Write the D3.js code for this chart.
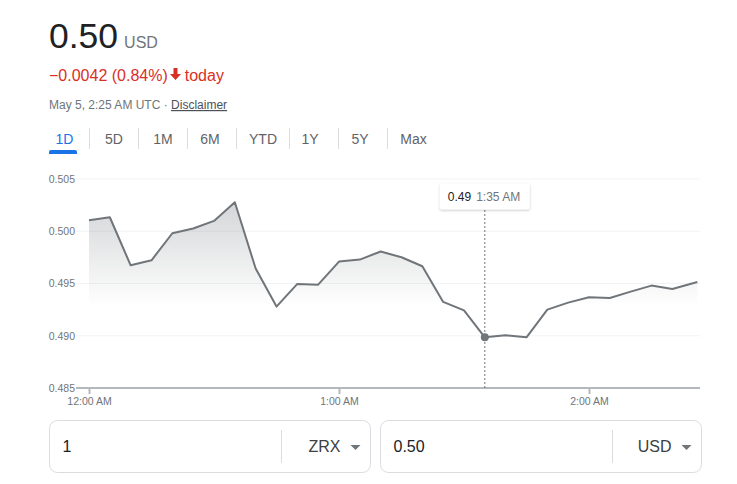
<!DOCTYPE html>
<html>
<head>
<meta charset="utf-8">
<script src="https://cdn.jsdelivr.net/npm/d3@7"></script>
<style>
  body { margin: 0; background: #fff; }
  svg text { font-family: Arial, "Liberation Sans", sans-serif; }
</style>
</head>
<body>
<div id="chart"></div>
<script>
// minutes after 12:00 AM, one point every 5 minutes
var minutes = [0, 5, 10, 15, 20, 25, 30, 35, 40, 45, 50, 55,
  60, 65, 70, 75, 80, 85, 90, 95, 100, 105, 110, 115,
  120, 125, 130, 135, 140, 146];
var prices = [0.50105, 0.50134, 0.49674, 0.49722, 0.49981, 0.50026, 0.50099, 0.50278,
  0.49643, 0.49279, 0.49496, 0.49489, 0.49710, 0.49729, 0.49806, 0.49751,
  0.49665, 0.49324, 0.49243, 0.48985, 0.49004, 0.48985, 0.49250, 0.49317,
  0.49368, 0.49362, 0.49422, 0.49480, 0.49448, 0.49515];
var yTicks = [0.485, 0.490, 0.495, 0.500, 0.505];
var xTicks = [0, 60, 120];
var xTickLabels = ["12:00 AM", "1:00 AM", "2:00 AM"];
var tabs = ["1D", "5D", "1M", "6M", "YTD", "1Y", "5Y", "Max"];
var hoverIndex = 19; // 1:35 AM

var W = 737, H = 484;
var svg = d3.select("#chart").append("svg")
  .attr("width", W).attr("height", H);

// ---- header ----
var head = svg.append("text").attr("x", 49).attr("y", 48);
head.append("tspan").attr("font-size", 35.5).attr("fill", "#202124").text("0.50");
head.append("tspan").attr("dx", 6).attr("font-size", 16).attr("fill", "#70757a").text("USD");

var chg = svg.append("text").attr("x", 49).attr("y", 81)
  .attr("font-size", 16).attr("fill", "#d93025");
chg.append("tspan").text("\u22120.0042 (0.84%)");
chg.append("tspan").attr("dx", 17).text("today");
// down arrow
svg.append("path")
  .attr("d", "M173.5,68 h4 v6 h3.5 l-5.5,6 l-5.5,-6 h3.5 z")
  .attr("fill", "#d93025");

var dt = svg.append("text").attr("x", 49).attr("y", 109)
  .attr("font-size", 12).attr("fill", "#70757a");
dt.append("tspan").text("May 5, 2:25 AM UTC \u00b7 ");
dt.append("tspan").attr("fill", "#4d5156").attr("text-decoration", "underline").text("Disclaimer");

// ---- tabs ----
var tabCenters = [64.5, 114, 163, 210, 263, 310, 360, 413.5];
var seps = [89.5, 138.5, 187.5, 236.5, 289.5, 338.5, 387.5];
svg.selectAll(".tab").data(tabs).enter().append("text")
  .attr("class", "tab")
  .attr("x", function(d, i) { return tabCenters[i]; })
  .attr("y", 144)
  .attr("text-anchor", "middle")
  .attr("font-size", 14)
  .attr("fill", function(d, i) { return i === 0 ? "#1a73e8" : "#5f6368"; })
  .text(function(d) { return d; });
svg.selectAll(".sep").data(seps).enter().append("line")
  .attr("x1", function(d) { return d; }).attr("x2", function(d) { return d; })
  .attr("y1", 128).attr("y2", 149)
  .attr("stroke", "#dadce0").attr("stroke-width", 1);
svg.append("path")
  .attr("d", "M49,154 v-2 a2,2 0 0 1 2,-2 h24 a2,2 0 0 1 2,2 v2 z")
  .attr("fill", "#1a73e8");

// ---- chart ----
var x = d3.scaleLinear().domain([0, 120]).range([89, 589]);
var y = d3.scaleLinear().domain([0.485, 0.505]).range([388, 179]);
var data = minutes.map(function(m, i) { return {m: m, v: prices[i]}; });

// grid
svg.selectAll(".grid").data(yTicks.slice(1)).enter().append("line")
  .attr("x1", 76).attr("x2", 700)
  .attr("y1", function(d) { return y(d); }).attr("y2", function(d) { return y(d); })
  .attr("stroke", "#f1f3f4").attr("stroke-width", 1);

// y labels
var yAxis = svg.append("g").attr("transform", "translate(75,0)")
  .call(d3.axisLeft(y).tickValues(yTicks).tickSize(0).tickPadding(0)
    .tickFormat(d3.format(".3f")));
yAxis.select(".domain").remove();
yAxis.selectAll("text").attr("font-size", 10.5).attr("fill", "#70757a")
  .attr("font-family", "Arial, 'Liberation Sans', sans-serif");

// gradient area
var bottomY = y(0.4928);
var defs = svg.append("defs");
var grad = defs.append("linearGradient").attr("id", "fillGrad")
  .attr("gradientUnits", "userSpaceOnUse")
  .attr("x1", 0).attr("x2", 0)
  .attr("y1", y(d3.max(prices))).attr("y2", bottomY);
grad.append("stop").attr("offset", 0).attr("stop-color", "#70757a").attr("stop-opacity", 0.3);
grad.append("stop").attr("offset", 1).attr("stop-color", "#70757a").attr("stop-opacity", 0);

var area = d3.area()
  .x(function(d) { return x(d.m); })
  .y0(bottomY)
  .y1(function(d) { return Math.min(y(d.v), bottomY); });
svg.append("path").datum(data)
  .attr("d", area).attr("fill", "url(#fillGrad)");

// x axis
var xAxis = svg.append("g").attr("transform", "translate(0,388)")
  .call(d3.axisBottom(x).tickValues(xTicks).tickSize(6).tickPadding(4)
    .tickFormat(function(d, i) { return xTickLabels[i]; }));
xAxis.select(".domain").remove();
xAxis.selectAll("line").attr("stroke", "#b4b8bc").attr("stroke-width", 2);
xAxis.selectAll("text").attr("font-size", 10.5).attr("fill", "#70757a")
  .attr("font-family", "Arial, 'Liberation Sans', sans-serif");
svg.append("line")
  .attr("x1", 76).attr("x2", 700).attr("y1", 388).attr("y2", 388)
  .attr("stroke", "#b4b8bc").attr("stroke-width", 2);

// line
var line = d3.line()
  .x(function(d) { return x(d.m); })
  .y(function(d) { return y(d.v); });
svg.append("path").datum(data)
  .attr("d", line).attr("fill", "none")
  .attr("stroke", "#70757a").attr("stroke-width", 2)
  .attr("stroke-linejoin", "round");

// hover marker
var hp = data[hoverIndex];
svg.append("line")
  .attr("x1", x(hp.m)).attr("x2", x(hp.m))
  .attr("y1", 210).attr("y2", 388)
  .attr("stroke", "#70757a").attr("stroke-width", 1)
  .attr("stroke-dasharray", "2,2");
svg.append("circle")
  .attr("cx", x(hp.m)).attr("cy", y(hp.v)).attr("r", 4)
  .attr("fill", "#70757a");

// tooltip
var filt = defs.append("filter").attr("id", "shadow")
  .attr("x", "-20%").attr("y", "-30%").attr("width", "140%").attr("height", "170%");
filt.append("feDropShadow").attr("dx", 0).attr("dy", 1).attr("stdDeviation", 1.2)
  .attr("flood-color", "#3c4043").attr("flood-opacity", 0.3);
svg.append("rect")
  .attr("x", x(hp.m) - 45).attr("y", 183.5).attr("width", 90).attr("height", 26)
  .attr("rx", 2).attr("fill", "#fff").attr("filter", "url(#shadow)");
var tt = svg.append("text").attr("x", x(hp.m) - 37).attr("y", 200.5).attr("font-size", 12);
tt.append("tspan").attr("fill", "#202124").text("0.49");
tt.append("tspan").attr("dx", 5).attr("fill", "#70757a").text("1:35 AM");

// ---- converter boxes ----
var boxes = [
  {x: 49.5, w: 321, val: "1", cur: "ZRX"},
  {x: 380.5, w: 321, val: "0.50", cur: "USD"}
];
var bx = svg.selectAll(".box").data(boxes).enter().append("g").attr("class", "box");
bx.append("rect")
  .attr("x", function(d) { return d.x; }).attr("y", 420.5)
  .attr("width", function(d) { return d.w; }).attr("height", 52)
  .attr("rx", 8).attr("fill", "#fff").attr("stroke", "#dadce0");
bx.append("line")
  .attr("x1", function(d) { return d.x + d.w - 89; }).attr("x2", function(d) { return d.x + d.w - 89; })
  .attr("y1", 430).attr("y2", 463).attr("stroke", "#dadce0");
bx.append("text")
  .attr("x", function(d) { return d.x + 13; }).attr("y", 452)
  .attr("font-size", 16).attr("fill", "#202124")
  .text(function(d) { return d.val; });
bx.append("text")
  .attr("x", function(d) { return d.x + d.w - 30; }).attr("y", 452)
  .attr("text-anchor", "end")
  .attr("font-size", 16).attr("fill", "#3c4043")
  .text(function(d) { return d.cur; });
bx.append("path")
  .attr("d", function(d) { var r = d.x + d.w; return "M" + (r - 20) + ",445 h10 l-5,5 z"; })
  .attr("fill", "#70757a");
</script>
</body>
</html>
